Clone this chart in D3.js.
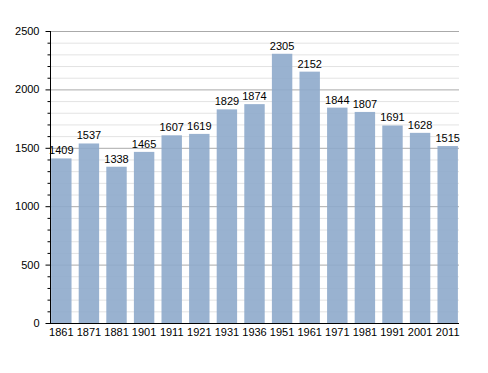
<!DOCTYPE html>
<html><head><meta charset="utf-8">
<script src="https://cdn.jsdelivr.net/npm/d3@7/dist/d3.min.js"></script>
<style>body{margin:0;background:#fff}svg{display:block}text{font-family:"Liberation Sans",Arial,sans-serif}</style>
</head><body>
<svg id="c" width="488" height="373"></svg>
<script>
const years = ["1861","1871","1881","1901","1911","1921","1931","1936","1951","1961","1971","1981","1991","2001","2011"];
const population = [1409,1537,1338,1465,1607,1619,1829,1874,2305,2152,1844,1807,1691,1628,1515];
const yMajorTicks = [0,500,1000,1500,2000,2500];

const svg = d3.select("#c");
const L = 50, R = 459, T = 31, B = 323;
const x = d3.scaleBand().domain(years).range([L, R]).paddingInner(0.26).paddingOuter(0.04);
const y = d3.scaleLinear().domain([0, 2500]).range([B, T]);
const minor = d3.range(0, 2501, 100).filter(v => v % 500 !== 0);

svg.append("g").selectAll("line").data(minor).join("line")
  .attr("x1", L).attr("x2", R).attr("y1", d => y(d)+0.5).attr("y2", d => y(d)+0.5)
  .attr("stroke", "#e3e3e3").attr("stroke-width", 1);
svg.append("g").selectAll("line").data(yMajorTicks.filter(v => v > 0)).join("line")
  .attr("x1", L).attr("x2", R).attr("y1", d => y(d)+0.5).attr("y2", d => y(d)+0.5)
  .attr("stroke", "#aaaaaa").attr("stroke-width", 1);

svg.append("g").selectAll("rect").data(population).join("rect")
  .attr("x", (d, i) => x(years[i])).attr("width", x.bandwidth())
  .attr("y", d => y(d)).attr("height", d => B - y(d))
  .attr("fill", "#8eaacb").attr("fill-opacity", 0.9);

svg.append("g").selectAll("text").data(population).join("text")
  .attr("x", (d, i) => x(years[i]) + x.bandwidth()/2).attr("y", d => y(d) - 4)
  .attr("text-anchor", "middle").attr("font-size", 11).attr("fill", "#000").text(d => d);

// y axis
const yAxis = d3.axisLeft(y).tickValues(yMajorTicks).tickSize(5).tickPadding(6).tickFormat(d3.format("d"));
const gy = svg.append("g").attr("transform", `translate(${L+0.5},0)`).call(yAxis);
gy.select(".domain").attr("d", `M0,${T}V${B}`).attr("stroke", "#000");
gy.selectAll(".tick text").attr("font-size", 11).attr("fill", "#000").style("font-family", '"Liberation Sans",Arial,sans-serif');
gy.selectAll(".tick line").attr("stroke", "#000");
const yMinor = d3.axisLeft(y).tickValues(minor).tickSize(3).tickFormat("");
const gm = svg.append("g").attr("transform", `translate(${L+0.5},0)`).call(yMinor);
gm.select(".domain").remove();
gm.selectAll(".tick line").attr("stroke", "#000");

// x axis
const xAxis = d3.axisBottom(x).tickSize(0).tickPadding(5);
const gx = svg.append("g").attr("transform", `translate(0,${B+0.5})`).call(xAxis);
gx.select(".domain").attr("d", `M${L},0H${R}`).attr("stroke", "#000");
gx.selectAll(".tick text").attr("font-size", 11).attr("fill", "#000").style("font-family", '"Liberation Sans",Arial,sans-serif');
</script>
</body></html>
